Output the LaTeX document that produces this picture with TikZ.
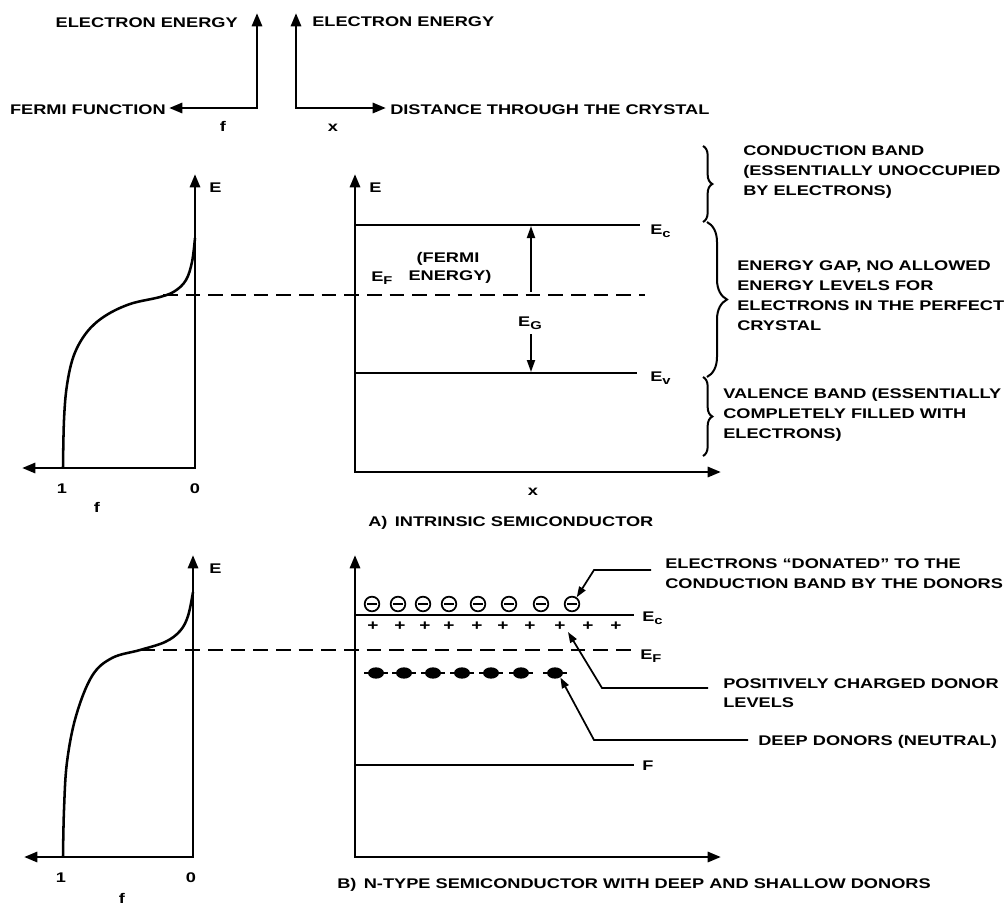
\documentclass[tikz,border=0pt]{standalone}
\usepackage{fontspec}
\setmainfont[FakeStretch=1.3]{Liberation Sans}
\usetikzlibrary{arrows.meta,decorations.pathreplacing,shapes.geometric}
\newcommand\sbs[1]{\raisebox{-2.6pt}{\fontsize{8.5}{9}\selectfont #1}}
\tikzset{
  lab/.style={font=\fontsize{10.5}{12}\selectfont\bfseries, inner sep=0pt},
  axistwo/.style={line width=2.2pt, {Triangle[length=10pt,width=7.5pt]}-{Triangle[length=10pt,width=7.5pt]}},
  lvl/.style={line width=1.6pt},
  fermidash/.style={line width=2.2pt, dash pattern=on 11pt off 6pt},
  crv/.style={line width=1.9pt},
  brc/.style={line width=1.5pt, decorate, decoration={brace, amplitude=#1}},
  gaparr/.style={line width=1.4pt, -{Triangle[length=9pt,width=6pt]}},
  leadarr/.style={line width=1.3pt, -{Triangle[length=8pt,width=5.5pt]}},
  electron/.style={circle, draw, line width=1.3pt, minimum size=11pt, inner sep=0pt,
    path picture={\draw[line width=1.8pt] ([xshift=-3.4pt]path picture bounding box.center) -- ([xshift=3.4pt]path picture bounding box.center);}},
  deep/.style={ellipse, fill=black, minimum width=12pt, minimum height=8.5pt, inner sep=0pt},
  plussign/.style={lab, font=\fontsize{11}{12}\selectfont\bfseries},
}
\begin{document}
\begin{tikzpicture}[x=0.75pt,y=-0.75pt]
\useasboundingbox (0,0) rectangle (1004,908);

% ---------------- top legend axes ----------------
\coordinate (tlc) at (257,108);
\coordinate (tlt) at (257,13);
\coordinate (tll) at (169,108);
\draw[axistwo] (tlt) -- (tlc) -- (tll);
\node[lab, anchor=base east] (tlE) at (238,27) {ELECTRON ENERGY};
\node[lab, anchor=base east] (tlF) at (166,114) {FERMI FUNCTION};
\node[lab, anchor=base] (tlf) at (223,131) {f};

\coordinate (trc) at (296,108);
\coordinate (trt) at (296,13);
\coordinate (trr) at (386,108);
\draw[axistwo] (trt) -- (trc) -- (trr);
\node[lab, anchor=base west] (trE) at (312,26) {ELECTRON ENERGY};
\node[lab, anchor=base west] (trD) at (390,114) {DISTANCE THROUGH THE CRYSTAL};
\node[lab, anchor=base] (trx) at (333,131) {x};

% ---------------- A: left Fermi function ----------------
\coordinate (Alc) at (195,468);
\coordinate (Alt) at (195,174);
\coordinate (All) at (22,468);
\draw[axistwo] (Alt) -- (Alc) -- (All);
\node[lab, anchor=base west] (AlE) at (209,192) {E};
\node[lab, anchor=base] (Al1) at (62,493) {1};
\node[lab, anchor=base] (Al0) at (195,493) {0};
\node[lab, anchor=base] (Alf) at (97,512) {f};
\draw[crv] plot[smooth, tension=0.6] coordinates {(63,468) (64,420) (67,385) (74,355) (87,332) (105,316) (130,304) (160,297) (175,291) (186,280) (192,262) (195,238)};

% ---------------- A: right band diagram ----------------
\coordinate (Arc) at (355,472);
\coordinate (Art) at (355,174);
\coordinate (Arr) at (721,472);
\draw[axistwo] (Art) -- (Arc) -- (Arr);
\node[lab, anchor=base west] (ArE) at (369,192) {E};
\node[lab, anchor=base] (Arx) at (533,495) {x};

\coordinate (Ec0) at (355,225);
\coordinate (Ec1) at (640,225);
\draw[lvl] (Ec0) -- (Ec1);
\node[lab, anchor=base west] (AEc) at (650,234) {E\sbs{c}};
\coordinate (Ev0) at (355,373);
\coordinate (Ev1) at (637,373);
\draw[lvl] (Ev0) -- (Ev1);
\node[lab, anchor=base west] (AEv) at (650,381) {E\sbs{v}};

\coordinate (AF0) at (163,295);
\coordinate (AF1) at (645,295);
\draw[fermidash] (AF0) -- (AF1);
\node[lab, anchor=base west] (AEF) at (371,281) {E\sbs{F}};
\node[lab, anchor=base] (Afe1) at (448,262) {(FERMI};
\node[lab, anchor=base] (Afe2) at (450,280) {ENERGY)};

\node[lab, anchor=base] (AEG) at (530,326) {E\sbs{G}};
\coordinate (gu0) at (531,292);
\coordinate (gu1) at (531,226);
\coordinate (gd0) at (531,334);
\coordinate (gd1) at (531,372);
\draw[gaparr] (gu0) -- (gu1);
\draw[gaparr] (gd0) -- (gd1);

% braces
\coordinate (b1a) at (703,146);
\coordinate (b1b) at (703,222);
\coordinate (b2a) at (707,222);
\coordinate (b2b) at (707,377);
\coordinate (b3a) at (703,377);
\coordinate (b3b) at (703,456);
\draw[brc=7pt] (b1a) -- (b1b);
\draw[brc=15pt] (b2a) -- (b2b);
\draw[brc=7pt] (b3a) -- (b3b);

\node[lab, anchor=base west] (cb1) at (743,155) {CONDUCTION BAND};
\node[lab, anchor=base west] (cb2) at (743,175) {(ESSENTIALLY UNOCCUPIED};
\node[lab, anchor=base west] (cb3) at (743,195) {BY ELECTRONS)};
\node[lab, anchor=base west] (eg1) at (737,270) {ENERGY GAP, NO ALLOWED};
\node[lab, anchor=base west] (eg2) at (737,290) {ENERGY LEVELS FOR};
\node[lab, anchor=base west] (eg3) at (737,310) {ELECTRONS IN THE PERFECT};
\node[lab, anchor=base west] (eg4) at (737,330) {CRYSTAL};
\node[lab, anchor=base west] (vb1) at (723,398) {VALENCE BAND (ESSENTIALLY};
\node[lab, anchor=base west] (vb2) at (723,418) {COMPLETELY FILLED WITH};
\node[lab, anchor=base west] (vb3) at (723,438) {ELECTRONS)};

\node[lab, anchor=base west] (Atitle) at (368,526) {A)\, INTRINSIC SEMICONDUCTOR};

% ---------------- B: left Fermi function ----------------
\coordinate (Blc) at (193,857);
\coordinate (Blt) at (193,555);
\coordinate (Bll) at (24,857);
\draw[axistwo] (Blt) -- (Blc) -- (Bll);
\node[lab, anchor=base west] (BlE) at (209,573) {E};
\node[lab, anchor=base] (Bl1) at (61,882) {1};
\node[lab, anchor=base] (Bl0) at (191,882) {0};
\node[lab, anchor=base] (Blf) at (122,903) {f};
\draw[crv] plot[smooth, tension=0.6] coordinates {(63,857) (64,810) (67,762) (76,716) (92,676) (112,658) (140,650) (165,642) (180,631) (188,616) (193,592)};

% ---------------- B: right band diagram ----------------
\coordinate (Brc) at (355,857);
\coordinate (Brt) at (355,555);
\coordinate (Brr) at (721,857);
\draw[axistwo] (Brt) -- (Brc) -- (Brr);

\coordinate (BEc0) at (355,615);
\coordinate (BEc1) at (634,615);
\draw[lvl] (BEc0) -- (BEc1);
\node[lab, anchor=base west] (BEc) at (642,621) {E\sbs{c}};

\coordinate (BF0) at (140,650);
\coordinate (BF1) at (634,650);
\draw[fermidash] (BF0) -- (BF1);
\node[lab, anchor=base west] (BEF) at (640,659) {E\sbs{F}};

\coordinate (BFl0) at (355,765);
\coordinate (BFl1) at (634,765);
\draw[lvl] (BFl0) -- (BFl1);
\node[lab, anchor=base west] (BFl) at (642,770) {F};

% electrons in conduction band
\foreach \i/\x in {1/372,2/398,3/423,4/449,5/478,6/509,7/541,8/572}
  \node[electron] (e\i) at (\x,604) {};
% positively charged donors
\foreach \i/\x in {1/373,2/400,3/425,4/449,5/477,6/503,7/530,8/560,9/588,10/616}
  \node[plussign] (p\i) at (\x,626) {+};
% deep donors
\foreach \i/\x in {1/376,2/404,3/433,4/462,5/491,6/521,7/555}{
  \node[deep] (d\i) at (\x,673) {};
  \draw[line width=1.5pt] ([xshift=-2.5pt]d\i.west) -- ([xshift=2.5pt]d\i.east);
}

% leaders and labels
\node[lab, anchor=base west] (le1) at (665,568) {ELECTRONS ``DONATED'' TO THE};
\node[lab, anchor=base west] (le2) at (665,588) {CONDUCTION BAND BY THE DONORS};
\coordinate (l1b) at (651,570);
\coordinate (l1a) at (594,570);
\draw[leadarr] (l1b) -- (l1a) -- (e8.55);

\node[lab, anchor=base west] (lp1) at (723,688) {POSITIVELY CHARGED DONOR};
\node[lab, anchor=base west] (lp2) at (723,707) {LEVELS};
\coordinate (l2b) at (708,688);
\coordinate (l2a) at (602,688);
\coordinate (l2t) at (568,632);
\draw[leadarr] (l2b) -- (l2a) -- (l2t);

\node[lab, anchor=base west] (ld1) at (758,745) {DEEP DONORS (NEUTRAL)};
\coordinate (l3b) at (748,740);
\coordinate (l3a) at (594,740);
\draw[leadarr] (l3b) -- (l3a) -- (d7.-40);

\node[lab, anchor=base west] (Btitle) at (337,888) {B)\, N-TYPE SEMICONDUCTOR WITH DEEP AND SHALLOW DONORS};
\end{tikzpicture}
\end{document}
